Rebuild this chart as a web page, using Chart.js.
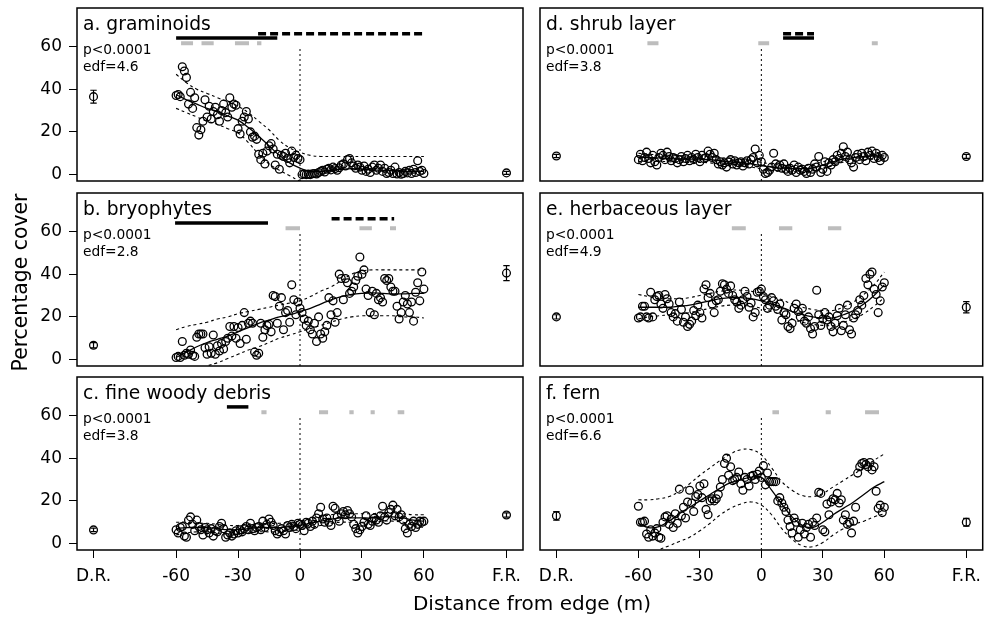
<!DOCTYPE html>
<html>
<head>
<meta charset="utf-8">
<title>Percentage cover vs distance from edge</title>
<script src="https://cdn.jsdelivr.net/npm/chart.js@4.4.1/dist/chart.umd.min.js"></script>
<style>
  html, body { margin: 0; padding: 0; background: #fff; }
  #wrap { position: relative; width: 988px; height: 618px; overflow: hidden; }
  #wrap canvas { position: absolute; left: 0; top: 0; }
</style>
</head>
<body>
<div id="wrap"></div>
<script>
// distance of each plot from the edge (m)
const dist = [
  -60,-59,-58,-57,-56,-55,-54,-53,-52,-51,
  -50,-49,-48,-47,-46,-45,-44,-43,-42,-41,
  -40,-39,-38,-37,-36,-35,-34,-33,-32,-31,
  -30,-29,-28,-27,-26,-25,-24,-23,-22,-21,
  -20,-19,-18,-17,-16,-15,-14,-13,-12,-11,
  -10,-9,-8,-7,-6,-5,-4,-3,-2,-1,
  0,1,2,3,4,5,6,7,8,9,
  10,11,12,13,14,15,16,17,18,19,
  20,21,22,23,24,25,26,27,28,29,
  30,31,32,33,34,35,36,37,38,39,
  40,41,42,43,44,45,46,47,48,49,
  50,51,52,53,54,55,56,57,58,59,60
];
// where the smoothed curve and its bands are given
const nodeX = [-60,-55,-50,-45,-40,-35,-30,-25,-20,-15,-10,-5,0,5,10,15,20,25,30,35,40,45,50,55,60];
const refX = [-100, 100];   // D.R. and F.R. reference sites
const xTicks = [-100, -60, -30, 0, 30, 60, 100];
const xTickLabels = ['D.R.', '-60', '-30', '0', '30', '60', 'F.R.'];
const yTicks = [0, 20, 40, 60];

// a. graminoids
const graminoids = [
  37,37.5,36.5,50.5,48.5,45.5,33,38.5,31,36,
  22,18.5,21,25,35,27,32,26,29.5,31.5,
  28,25,30,33,29,27,36,31.5,33,32.5,
  21.5,19,25,27,29.5,26,20,17.5,18,16.5,
  9.5,7,10,5,11,13.5,14.5,12,4.5,9.5,
  2.5,9,8.5,10,7.5,5.5,11,8,9,7.5,
  7,0,0.3,0,0.2,0,0.4,0.5,0.3,1,
  1.5,2,1.2,2.5,3,2.2,3.5,2.8,2,3.2,
  4.5,5,4,7,7.5,5.5,4,3,4.5,3.5,
  2,4,1.5,2.5,1,3.5,4.5,2,3,4.5,
  1.5,3,0.5,1,2,0.5,3.5,0.3,1,0.2,
  0.5,1.5,0.8,2,0.5,2.5,1,6.5,1.5,2,0.5
];
const graminoidsFit = [37.5,35,33,31,29.5,27.5,25.5,22,18,13.5,9,5.5,3,1.5,1.5,2,2.5,2.8,2.5,2.2,2,1.8,1.5,1.5,1.5];
const graminoidsUpper = [47,43,40,38,36,34,32,29,25,21,16,12.5,10.5,9,8.5,8.5,8.5,8.5,8.5,8.5,8.5,8.5,8.5,8.5,8.5];
const graminoidsLower = [31,29,27,25,23.5,21.5,19.5,15,9.5,5,2,-0.5,-3,-4,-5,-5,-5,-5,-5,-5,-5,-5,-5,-5,-5];
const graminoidsRef = [36.5, 0.8];
const graminoidsRefSE = [3, 0.7];
const graminoidsSolid = [[-60, -11]];
const graminoidsDashed = [[-20.3, 60]];
const graminoidsGrey = [[-57.6, -51.8], [-47.7, -41.8], [-31.5, -24.7], [-20.8, -18.7]];

// b. bryophytes
const bryophytes = [
  1,1.5,1,8.5,2,3,2.5,4.5,2,1.5,
  10.5,12,12,12,5.5,2.5,6,3,11.5,2.5,
  6.5,4,7.5,5,8.5,10,15.5,11,15.5,10,
  15,7.5,16,22,9.5,17,18,17,3.5,2,
  3,17,10.5,14,16,16.5,13,30,29.5,17,
  25,29,14,22,23,17.5,35,28,21,27,
  24,22,19,16,18,14,12,17,8.5,20,
  12,10,13,16,29,21,27.5,17.5,22,40,
  38,28,38,36,31,32,34,37,39,48,
  40,42,33,30,22,32,21,31,28,29,
  27,38,37,38,34,32,32,25,19,22,
  27,30,26,22,27,18,31.5,36,27.5,41,33
];
const bryophytesFit = [1,3.5,6,8,9.5,11,13,15,17,18.5,20,21,22.5,24,26,28,29.5,30.5,31,31.2,31,30.8,30.8,31,31];
const bryophytesUpper = [14,15.5,16.5,17.5,19,20,21.5,22.5,23.5,24.5,25.5,26.5,27.5,29.5,32,34,37,40,41.5,42,42,42,42,42,42];
const bryophytesLower = [-10,-7.5,-5.5,-3,-1.5,0.5,2.5,4.5,6,8,10,11.5,13,14.5,16,17.5,19,20,20.5,20.5,20.5,20.5,20,20,19.5];
const bryophytesRef = [6.7, 40.5];
const bryophytesRefSE = [1.2, 3.5];
const bryophytesSolid = [[-60.5, -15.5]];
const bryophytesDashed = [[15.3, 45.6]];
const bryophytesGrey = [[-7, 0], [28.8, 34.8], [43.6, 46.5]];

// c. fine woody debris
const woodyDebris = [
  6.5,5,7.5,8,3.5,3,11,12.5,9,6,
  11,8,6.5,4,7.5,6.5,5,7,3.5,6,
  5.5,8,9.5,7,3,4,5,3.5,4.5,6,
  5,6.5,5.5,7,8,6.5,9.5,7,6,7.5,
  8,6.5,10.5,7.5,9,11.5,10,8.5,6,4.5,
  5.5,7,6,4.5,8.5,7.5,9,8,7,9.5,
  9,8.5,6,10,9.5,8,10.5,9,12,14,
  17,11.5,10,12,10,8.5,17.5,16.5,12.5,10.5,
  14,15,13.5,15.5,14,12.5,9,7,5,6.5,
  8,10,13,9,8.5,10.5,12,11,10,13,
  17.5,12.5,11,14.5,16,18,13,16,12.5,13.5,
  11,7,5,9,8,10.5,7.5,9,10.5,10,10.5
];
const woodyDebrisFit = [7,7.5,7.5,7.5,7,6.5,6.5,7,7.5,7.5,7.5,8,8.5,9.5,10.5,11.5,12,12,12,12,12.5,12.5,12,11,10.5];
const woodyDebrisUpper = [10,10,9.5,9.5,9,8.5,8.5,9,9.5,9.5,9.5,10,10.5,11.5,12.5,13.5,14,14,14,14,14.5,14.5,14,13.5,13.5];
const woodyDebrisLower = [4,5,5.5,5.5,5,4.5,4.5,5,5.5,5.5,5.5,6,6.5,7.5,8.5,9.5,10,10,10,10,10.5,10.5,10,8.5,7.5];
const woodyDebrisRef = [6.4, 13.4];
const woodyDebrisRefSE = [0.8, 1];
const woodyDebrisSolid = [[-35.4, -25]];
const woodyDebrisDashed = [];
const woodyDebrisGrey = [[-18.7, -16.2], [9.2, 13.6], [23.9, 26], [34.2, 36.2], [47.3, 50.5]];

// d. shrub layer
const shrub = [
  7,9.5,6.5,8,10.5,7.5,5.5,9,6,4.5,
  8,10,9,7,10.5,8.5,6.5,8,7.5,5.5,
  7,8.5,6,7.5,9,6.5,8,7,9.5,8,
  6,9,7.5,8,11,9.5,8,10,7,5,
  6,4.5,5.5,3.5,6,7,5,6.5,4.5,5.5,
  6,4,5.5,6.5,5,7,8,12,5.5,9,
  6,2.5,0.5,1,2,3.5,10,5,3.5,4.5,
  3,5,2.5,1.5,3,2,4.5,1,3.5,2,
  2.5,1.5,0.5,3,1,2.5,5,3.5,8.5,1,
  2.5,6,1.5,5.5,4.5,7,6,9,7.5,10,
  13,8.5,10.5,7,5.5,3.5,8,9.5,7,10,
  8.5,6.5,10.5,9,11,7.5,10,8,6.5,9,8
];
const shrubFit = [8,8,7.8,7.5,7.3,7.2,7.2,7,6.5,6,5.5,5,4.2,3.5,3,2.8,2.8,3.3,4.5,6,7.3,8,8.5,8.7,8.8];
const shrubUpper = [10,9.5,9.3,9,8.8,8.7,8.7,8.5,8,7.5,7,6.5,5.7,5,4.5,4.3,4.3,4.8,6,7.5,8.8,9.5,10,10.2,10.8];
const shrubLower = [6,6.5,6.3,6,5.8,5.7,5.7,5.5,5,4.5,4,3.5,2.7,2,1.5,1.3,1.3,1.8,3,4.5,5.8,6.5,7,7.2,6.8];
const shrubRef = [8.7, 8.5];
const shrubRefSE = [0.8, 0.9];
const shrubSolid = [[10.6, 25.7]];
const shrubDashed = [[10.6, 25.7]];
const shrubGrey = [[-55.6, -50.2], [-1.5, 3.8], [53.9, 56.8]];

// e. herbaceous layer
const herbaceous = [
  19.5,20,25,25,20,19.5,31.5,20,28,29.5,
  30,26,24,30.5,28.5,26,22,20,21.5,18,
  27,23.5,17.5,20,15.5,16.5,18,23,20.5,25.5,
  22,19.5,33,35,29,31,26,22,27.5,28,
  32,35.5,35,33,31,34.5,30,28,27,24,
  25.5,28,32,29.5,24.5,26.5,20,22,31.5,32,
  33,29.5,28,24,25.5,29,27.5,25,23.5,26,
  18.5,22,21,15.5,14.5,17,24,26,22.5,20,
  24,18,17,20,14.5,12,15.5,32.5,21,16,
  19,22,18.5,20,15.5,13,17,20.5,24,13.5,
  16,21,25.5,14,12,19.5,21,23,28,25.5,
  30,38,35,40,41,33,30.5,22,27.5,34,36
];
const herbaceousFit = [24.5,24.5,24.5,24.5,25,25.5,26.5,27.5,28.5,29,29,28.5,27.5,26,24.5,22.5,21,20,19.5,19.5,21,23,26,30,35];
const herbaceousUpper = [30.5,29.5,28.5,28.5,28.5,29,30,31,32,32.5,32.5,32,31,29.5,28,26,24.5,23.5,23,23,24.5,27,30.5,35,41];
const herbaceousLower = [19,20,20.5,21,21.5,22,23,24,25,25.5,25.5,25,24,22.5,21,19,17.5,16.5,16,16,17.5,19,21.5,25,29];
const herbaceousRef = [20, 24.5];
const herbaceousRefSE = [1, 2.6];
const herbaceousSolid = [];
const herbaceousDashed = [];
const herbaceousGrey = [[-14.4, -7.6], [8.6, 15.1], [32.5, 39]];

// f. fern
const fern = [
  17.5,10,10,10.5,4.5,3,6.5,3.5,5,7,
  3,2.5,10,12.5,13,9,11.5,7.5,14,9.5,
  25.5,13,17,12,19.5,25,19,15,22,23,
  27,21.5,28,16,13.5,20,21,20,21,23,
  26.5,30,37.5,40,32,36,29.5,30,31,33.5,
  28,25,31,30,27,31.5,32,30,32.5,34,
  31,36.5,27.5,33,29,29,29,29,20,21.5,
  19,17,15,11,8,5,12,10,3,6.5,
  9.5,4.5,7.5,9,3,10,8.5,12,24,23.5,
  6.5,5.5,18.5,13.5,19.5,21,20.5,23.5,19,20.5,
  11,13.5,9,10,5,10.5,17,33,36,37.5,
  38,37,36,38,34.5,36,24.5,16.5,18,14.5,17
];
const fernFit = [9.5,7.5,8,10.5,14,17,20,23,26,28.5,30,31,31,25,18.5,12.5,8.5,7.5,10,13.5,16.5,19.5,23,26.5,29];
const fernUpper = [20.5,20.5,21,22,24.5,28,32,35.5,39,42,44,44,41.5,35.5,29,25,22.5,22,23.5,26.5,29.5,32.5,35.5,39,42];
const fernLower = [-7,-5.5,-3,-1,1,3,6,9.5,13.5,16.5,18.5,19.5,18,13.5,7,2,-1,-1.5,0.5,4,7,9,10.5,12.5,14];
const fernRef = [13, 10];
const fernRefSE = [2, 1.8];
const fernSolid = [];
const fernDashed = [];
const fernGrey = [[5.4, 8.6], [31.4, 33.9], [50.6, 57.4]];

const pText = 'p<0.0001';
const FONT = "'DejaVu Sans', sans-serif";
Chart.defaults.font.family = FONT;

// box = [left, top, right, bottom] of each plotting region on the page
const panels = [
  { box: [77, 8, 523, 181],    title: 'a. graminoids',        edf: 'edf=4.6', pts: graminoids,  fit: graminoidsFit,  up: graminoidsUpper,  lo: graminoidsLower,  ref: graminoidsRef,  se: graminoidsRefSE,  solid: graminoidsSolid,  dashed: graminoidsDashed,  grey: graminoidsGrey,  yAxis: true,  xAxis: false },
  { box: [77, 193, 523, 366],  title: 'b. bryophytes',        edf: 'edf=2.8', pts: bryophytes,  fit: bryophytesFit,  up: bryophytesUpper,  lo: bryophytesLower,  ref: bryophytesRef,  se: bryophytesRefSE,  solid: bryophytesSolid,  dashed: bryophytesDashed,  grey: bryophytesGrey,  yAxis: true,  xAxis: false },
  { box: [77, 377, 523, 550],  title: 'c. fine woody debris', edf: 'edf=3.8', pts: woodyDebris, fit: woodyDebrisFit, up: woodyDebrisUpper, lo: woodyDebrisLower, ref: woodyDebrisRef, se: woodyDebrisRefSE, solid: woodyDebrisSolid, dashed: woodyDebrisDashed, grey: woodyDebrisGrey, yAxis: true,  xAxis: true, titles: true },
  { box: [540, 8, 985, 181],   title: 'd. shrub layer',       edf: 'edf=3.8', pts: shrub,       fit: shrubFit,       up: shrubUpper,       lo: shrubLower,       ref: shrubRef,       se: shrubRefSE,       solid: shrubSolid,       dashed: shrubDashed,       grey: shrubGrey,       yAxis: false, xAxis: false },
  { box: [540, 193, 985, 366], title: 'e. herbaceous layer',  edf: 'edf=4.9', pts: herbaceous,  fit: herbaceousFit,  up: herbaceousUpper,  lo: herbaceousLower,  ref: herbaceousRef,  se: herbaceousRefSE,  solid: herbaceousSolid,  dashed: herbaceousDashed,  grey: herbaceousGrey,  yAxis: false, xAxis: false },
  { box: [540, 377, 985, 550], title: 'f. fern',              edf: 'edf=6.6', pts: fern,        fit: fernFit,        up: fernUpper,        lo: fernLower,        ref: fernRef,        se: fernRefSE,        solid: fernSolid,        dashed: fernDashed,        grey: fernGrey,        yAxis: false, xAxis: true }
];

const Y_SOLID = 64, Y_DASHED = 66, Y_GREY = 61.5;

function segments(pairs, y, color, width, dash) {
  return pairs.map(([a, b]) => ({
    data: [{ x: a, y: y }, { x: b, y: y }],
    borderColor: color, borderWidth: width, borderDash: dash,
    borderCapStyle: 'butt', pointRadius: 0, tension: 0
  }));
}

function curve(ys, dash, width) {
  return {
    data: nodeX.map((x, i) => ({ x: x, y: ys[i] })),
    borderColor: '#000', borderWidth: width, borderDash: dash,
    pointRadius: 0, tension: 0.4
  };
}

function circles(xs, ys) {
  return {
    data: xs.map((x, i) => ({ x: x, y: ys[i] })),
    showLine: false, pointRadius: 3.9, pointBorderWidth: 1.3,
    pointBorderColor: '#000', pointBackgroundColor: 'rgba(0,0,0,0)'
  };
}

// frame, error bars on the reference sites and the panel texts
function decor(p) {
  return {
    id: 'decor',
    afterDatasetsDraw(chart) {
      const { ctx, chartArea: a, scales: { x, y } } = chart;
      ctx.save();
      ctx.strokeStyle = '#000';
      ctx.lineWidth = 1.2;
      p.ref.forEach((v, i) => {
        const px = x.getPixelForValue(refX[i]);
        const y1 = y.getPixelForValue(v - p.se[i]);
        const y2 = y.getPixelForValue(v + p.se[i]);
        ctx.beginPath();
        ctx.moveTo(px, y1); ctx.lineTo(px, y2);
        ctx.moveTo(px - 3.2, y1); ctx.lineTo(px + 3.2, y1);
        ctx.moveTo(px - 3.2, y2); ctx.lineTo(px + 3.2, y2);
        ctx.stroke();
      });
      ctx.lineWidth = 1.5;
      ctx.strokeRect(a.left, a.top, a.right - a.left, a.bottom - a.top);

      ctx.fillStyle = '#000';
      ctx.textAlign = 'left';
      ctx.textBaseline = 'alphabetic';
      ctx.font = '18.7px ' + FONT;
      ctx.fillText(p.title, a.left + 6, a.top + 22);
      ctx.font = '13.8px ' + FONT;
      ctx.fillText(pText, a.left + 6, a.top + 46);
      ctx.fillText(p.edf, a.left + 6, a.top + 62.5);

      if (p.titles) {
        ctx.textAlign = 'center';
        ctx.font = '20px ' + FONT;
        ctx.fillText('Distance from edge (m)', 532, 610);
        ctx.font = '20.4px ' + FONT;
        ctx.translate(26.5, 282.5);
        ctx.rotate(-Math.PI / 2);
        ctx.fillText('Percentage cover', 0, 0);
      }
      ctx.restore();
    }
  };
}

const wrap = document.getElementById('wrap');

panels.forEach(p => {
  const [l, t, r, b] = p.box;
  const cv = document.createElement('canvas');
  cv.width = 988; cv.height = 618;
  wrap.appendChild(cv);

  const datasets = [].concat(
    segments(p.solid, Y_SOLID, '#000', 3.5, []),
    segments(p.dashed, Y_DASHED, '#000', 3.5, [8, 4]),
    segments(p.grey, Y_GREY, '#bdbdbd', 4, []),
    [{ data: [{ x: 0, y: -3 }, { x: 0, y: 60 }], borderColor: '#000', borderWidth: 1, borderDash: [2, 3], pointRadius: 0 }],
    [curve(p.up, [3, 3], 1.1), curve(p.lo, [3, 3], 1.1), curve(p.fit, [], 1.3)],
    [circles(dist, p.pts), circles(refX, p.ref)]
  );

  const xScale = {
    type: 'linear', min: -108, max: 108, display: p.xAxis,
    afterBuildTicks: s => { s.ticks = xTicks.map(v => ({ value: v })); },
    grid: { drawOnChartArea: false, tickLength: 8, color: '#000', tickColor: '#000', lineWidth: 1 },
    border: { display: false },
    ticks: { padding: 8, color: '#000', font: { size: 17 }, maxRotation: 0, autoSkip: false,
             callback: v => xTickLabels[xTicks.indexOf(v)] }
  };
  if (p.xAxis) xScale.afterFit = s => { s.height = 40; s.paddingLeft = 0; s.paddingRight = 0; };

  const yScale = {
    type: 'linear', min: -3, max: 78, display: p.yAxis,
    afterBuildTicks: s => { s.ticks = yTicks.map(v => ({ value: v })); },
    grid: { drawOnChartArea: false, tickLength: 8, color: '#000', tickColor: '#000', lineWidth: 1 },
    border: { display: false },
    ticks: { padding: 7, color: '#000', font: { size: 17 }, callback: v => String(v) }
  };
  if (p.yAxis) yScale.afterFit = s => { s.width = 60; s.paddingTop = 0; s.paddingBottom = 0; };

  new Chart(cv.getContext('2d'), {
    type: 'line',
    data: { datasets: datasets },
    options: {
      responsive: false,
      animation: false,
      devicePixelRatio: 1,
      events: [],
      layout: { padding: {
        left: p.yAxis ? l - 60 : l,
        right: 988 - r,
        top: t,
        bottom: p.xAxis ? 618 - b - 40 : 618 - b
      } },
      plugins: { legend: { display: false }, tooltip: { enabled: false } },
      scales: { x: xScale, y: yScale }
    },
    plugins: [decor(p)]
  });
});
</script>
</body>
</html>
